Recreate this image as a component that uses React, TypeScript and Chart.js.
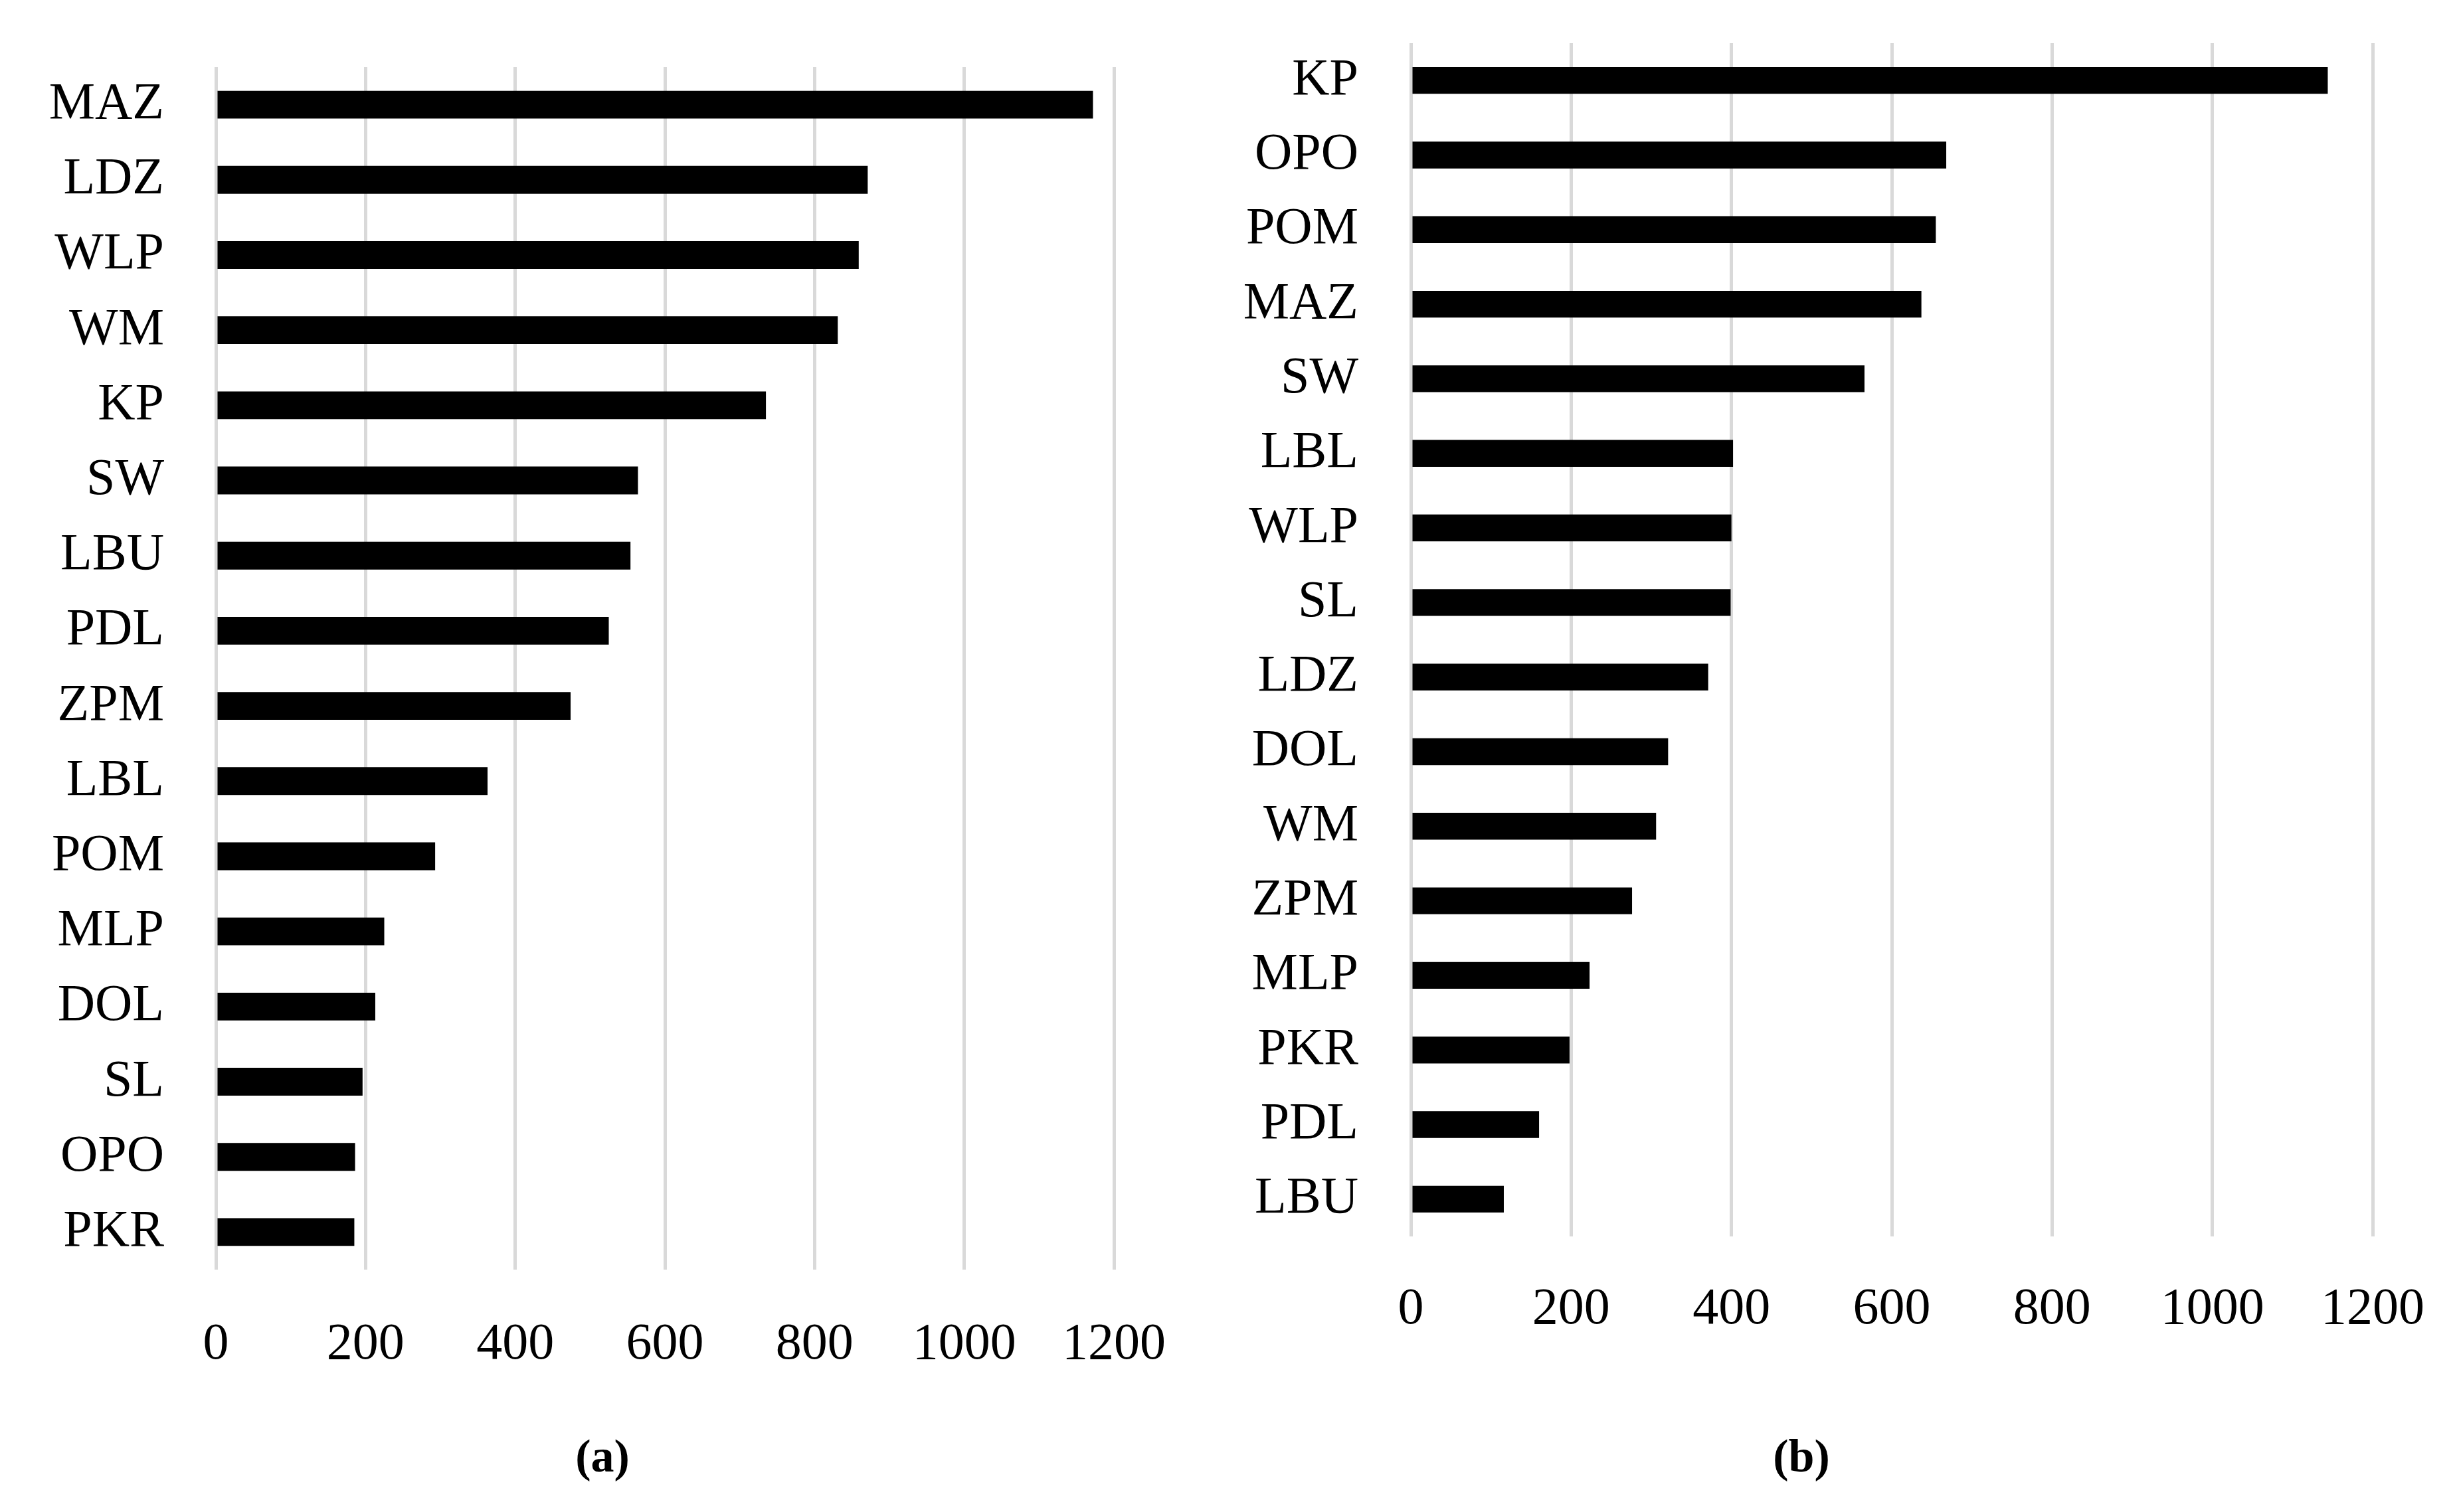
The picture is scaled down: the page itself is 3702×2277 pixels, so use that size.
import React, { useEffect, useRef } from "react";
import { Chart, registerables } from "chart.js";

Chart.register(...registerables);

const regionsA = ["MAZ", "LDZ", "WLP", "WM", "KP", "SW", "LBU", "PDL", "ZPM", "LBL", "POM", "MLP", "DOL", "SL", "OPO", "PKR"];
const valuesA = [1172, 871, 859, 831, 735, 564, 554, 525, 474, 363, 293, 225, 213, 196, 186, 185];

const regionsB = ["KP", "OPO", "POM", "MAZ", "SW", "LBL", "WLP", "SL", "LDZ", "DOL", "WM", "ZPM", "MLP", "PKR", "PDL", "LBU"];
const valuesB = [1144, 668, 655, 637, 566, 402, 400, 399, 371, 321, 306, 276, 223, 198, 160, 116];

const xTicks = [0, 200, 400, 600, 800, 1000, 1200];

const FONT = "'Liberation Serif', 'DejaVu Serif', serif";
const FONT_SIZE = 78;

type PanelProps = {
  labels: string[];
  values: number[];
  left: number;
  width: number;
  height: number;
  areaLeft: number;
  areaRight: number;
  areaTop: number;
  areaBottom: number;
  yPad: number;
  xPad: number;
  barPct: number;
};

function BarPanel(p: PanelProps) {
  const ref = useRef<HTMLCanvasElement | null>(null);
  useEffect(() => {
    if (!ref.current) return;
    const xAxisH = 160;
    const chart = new Chart(ref.current, {
      type: "bar",
      data: {
        labels: p.labels,
        datasets: [
          {
            data: p.values,
            backgroundColor: "#000000",
            borderWidth: 0,
            barPercentage: p.barPct,
            categoryPercentage: 1,
          },
        ],
      },
      options: {
        indexAxis: "y",
        responsive: false,
        animation: false,
        maintainAspectRatio: false,
        layout: {
          padding: {
            left: 0,
            right: p.width - p.areaRight,
            top: p.areaTop,
            bottom: p.height - p.areaBottom - xAxisH,
          },
        },
        plugins: {
          legend: { display: false },
          tooltip: { enabled: false },
          title: { display: false },
        },
        scales: {
          x: {
            type: "linear",
            min: 0,
            max: 1200,
            afterBuildTicks: (scale: any) => {
              scale.ticks = xTicks.map((v) => ({ value: v }));
            },
            afterFit: (scale: any) => {
              scale.height = xAxisH;
              scale.paddingLeft = 0;
              scale.paddingRight = 0;
              scale.paddingTop = 0;
              scale.paddingBottom = 0;
            },
            grid: {
              color: "#d9d9d9",
              lineWidth: 5,
              drawTicks: false,
              tickLength: 0,
            },
            border: { display: false },
            ticks: {
              color: "#000000",
              padding: p.xPad,
              font: { family: FONT, size: FONT_SIZE },
              maxRotation: 0,
              autoSkip: false,
              callback: (v: any) => String(v),
            },
          },
          y: {
            type: "category",
            afterFit: (scale: any) => {
              scale.width = p.areaLeft;
              scale.paddingTop = 0;
              scale.paddingBottom = 0;
              scale.paddingLeft = 0;
              scale.paddingRight = 0;
            },
            grid: { display: false, drawTicks: false, tickLength: 0 },
            border: { display: false },
            ticks: {
              color: "#000000",
              padding: p.yPad,
              font: { family: FONT, size: FONT_SIZE },
              autoSkip: false,
            },
          },
        },
      },
    });
    return () => chart.destroy();
  }, []);
  return (
    <canvas
      ref={ref}
      width={p.width}
      height={p.height}
      style={{ position: "absolute", left: p.left, top: 0, width: p.width, height: p.height }}
    />
  );
}

const captionStyle = (x: number, y: number): React.CSSProperties => ({
  position: "absolute",
  left: x,
  top: y,
  transform: "translate(-50%, -50%)",
  fontFamily: FONT,
  fontWeight: "bold",
  fontSize: 70,
  lineHeight: 1,
  color: "#000",
  whiteSpace: "nowrap",
});

export default function App() {
  return (
    <div
      style={{
        position: "absolute",
        left: 0,
        top: 0,
        width: 3702,
        height: 2277,
        background: "#ffffff",
        overflow: "hidden",
      }}
    >
      <BarPanel
        labels={regionsA}
        values={valuesA}
        left={0}
        width={1850}
        height={2277}
        areaLeft={325}
        areaRight={1677}
        areaTop={101}
        areaBottom={1912}
        yPad={78}
        xPad={67}
        barPct={0.37}
      />
      <BarPanel
        labels={regionsB}
        values={valuesB}
        left={1850}
        width={1852}
        height={2277}
        areaLeft={274}
        areaRight={1722}
        areaTop={65}
        areaBottom={1862}
        yPad={79}
        xPad={64}
        barPct={0.36}
      />
      <div style={captionStyle(907, 2193)}>(a)</div>
      <div style={captionStyle(2712, 2193)}>(b)</div>
    </div>
  );
}
